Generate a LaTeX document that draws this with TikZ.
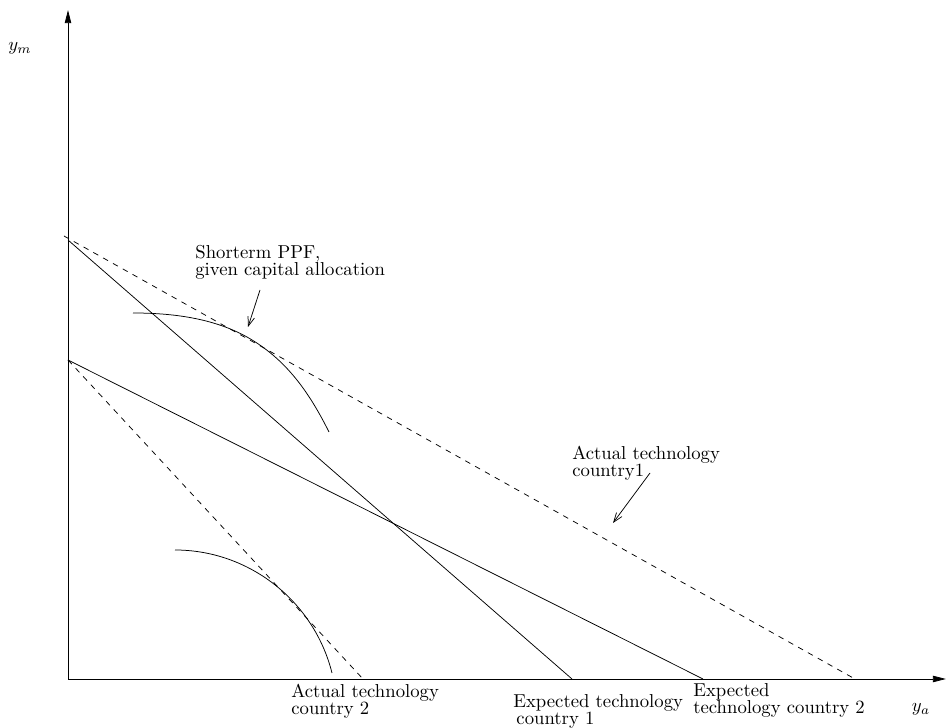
\documentclass[tikz,border=0pt]{standalone}
\usetikzlibrary{arrows.meta}
\begin{document}
\begin{tikzpicture}[x=0.5348pt, y=-0.5348pt, thin]
\useasboundingbox (0,0) rectangle (946,728);
\tikzstyle{every node} = [inner sep=0pt, font=\fontsize{10}{9.6}\selectfont]
\tikzstyle{lbl} = [anchor=base west, align=left]
\tikzstyle{axis} = [-{Triangle[width=3.4pt,length=7pt]}]
\tikzstyle{pointer} = [-{Straight Barb[length=5pt,width=3.6pt]}]
% axes
\coordinate (O) at (68,679);
\coordinate (ytop) at (68,10);
\coordinate (xend) at (946,679);
\draw[axis] (O) -- (ytop);
\draw[axis] (O) -- (xend);
\node (ym) at (20,48) {$y_m$};
\node (ya) at (921,709) {$y_a$};
% intercepts
\coordinate (m1) at (64,236);
\coordinate (e1) at (68,240);
\coordinate (e2) at (68,360);
\coordinate (a1) at (855,679);
\coordinate (x1) at (572,679);
\coordinate (x2) at (703,679);
\coordinate (a2) at (363,679);
\draw[dashed] (m1) -- (a1);
\draw[dashed] (e2) -- (a2);
\draw (e1) -- (x1);
\draw (e2) -- (x2);
% shortterm PPFs
\coordinate (p1) at (133,313);
\coordinate (t1) at (247,337);
\coordinate (q1) at (329,432);
\coordinate (p2) at (175,550);
\coordinate (q2) at (332,673);
\draw (p1) .. controls (172,313) and (213,318) .. (t1)
           .. controls (286,359) and (309,392) .. (q1);
\draw (p2) .. controls (249,550) and (314,601) .. (q2);
% labels
\node[lbl] (ppf) at (195,276) {Shorterm PPF,\\given capital allocation};
\coordinate (ppf-tip) at (248,327);
\draw[pointer] (260,290) -- (ppf-tip);
\node[lbl] (act1) at (572,477) {Actual technology\\country1};
\coordinate (act1-tip) at (613,523);
\draw[pointer] (650,473) -- (act1-tip);
\node[lbl] (act2) at (291,715) {Actual technology\\country 2};
\node[lbl] (exp1) at (513,725) {Expected technology\\\,country 1};
\node[lbl] (exp2) at (693,714) {Expected\\technology country 2};
\end{tikzpicture}
\end{document}
